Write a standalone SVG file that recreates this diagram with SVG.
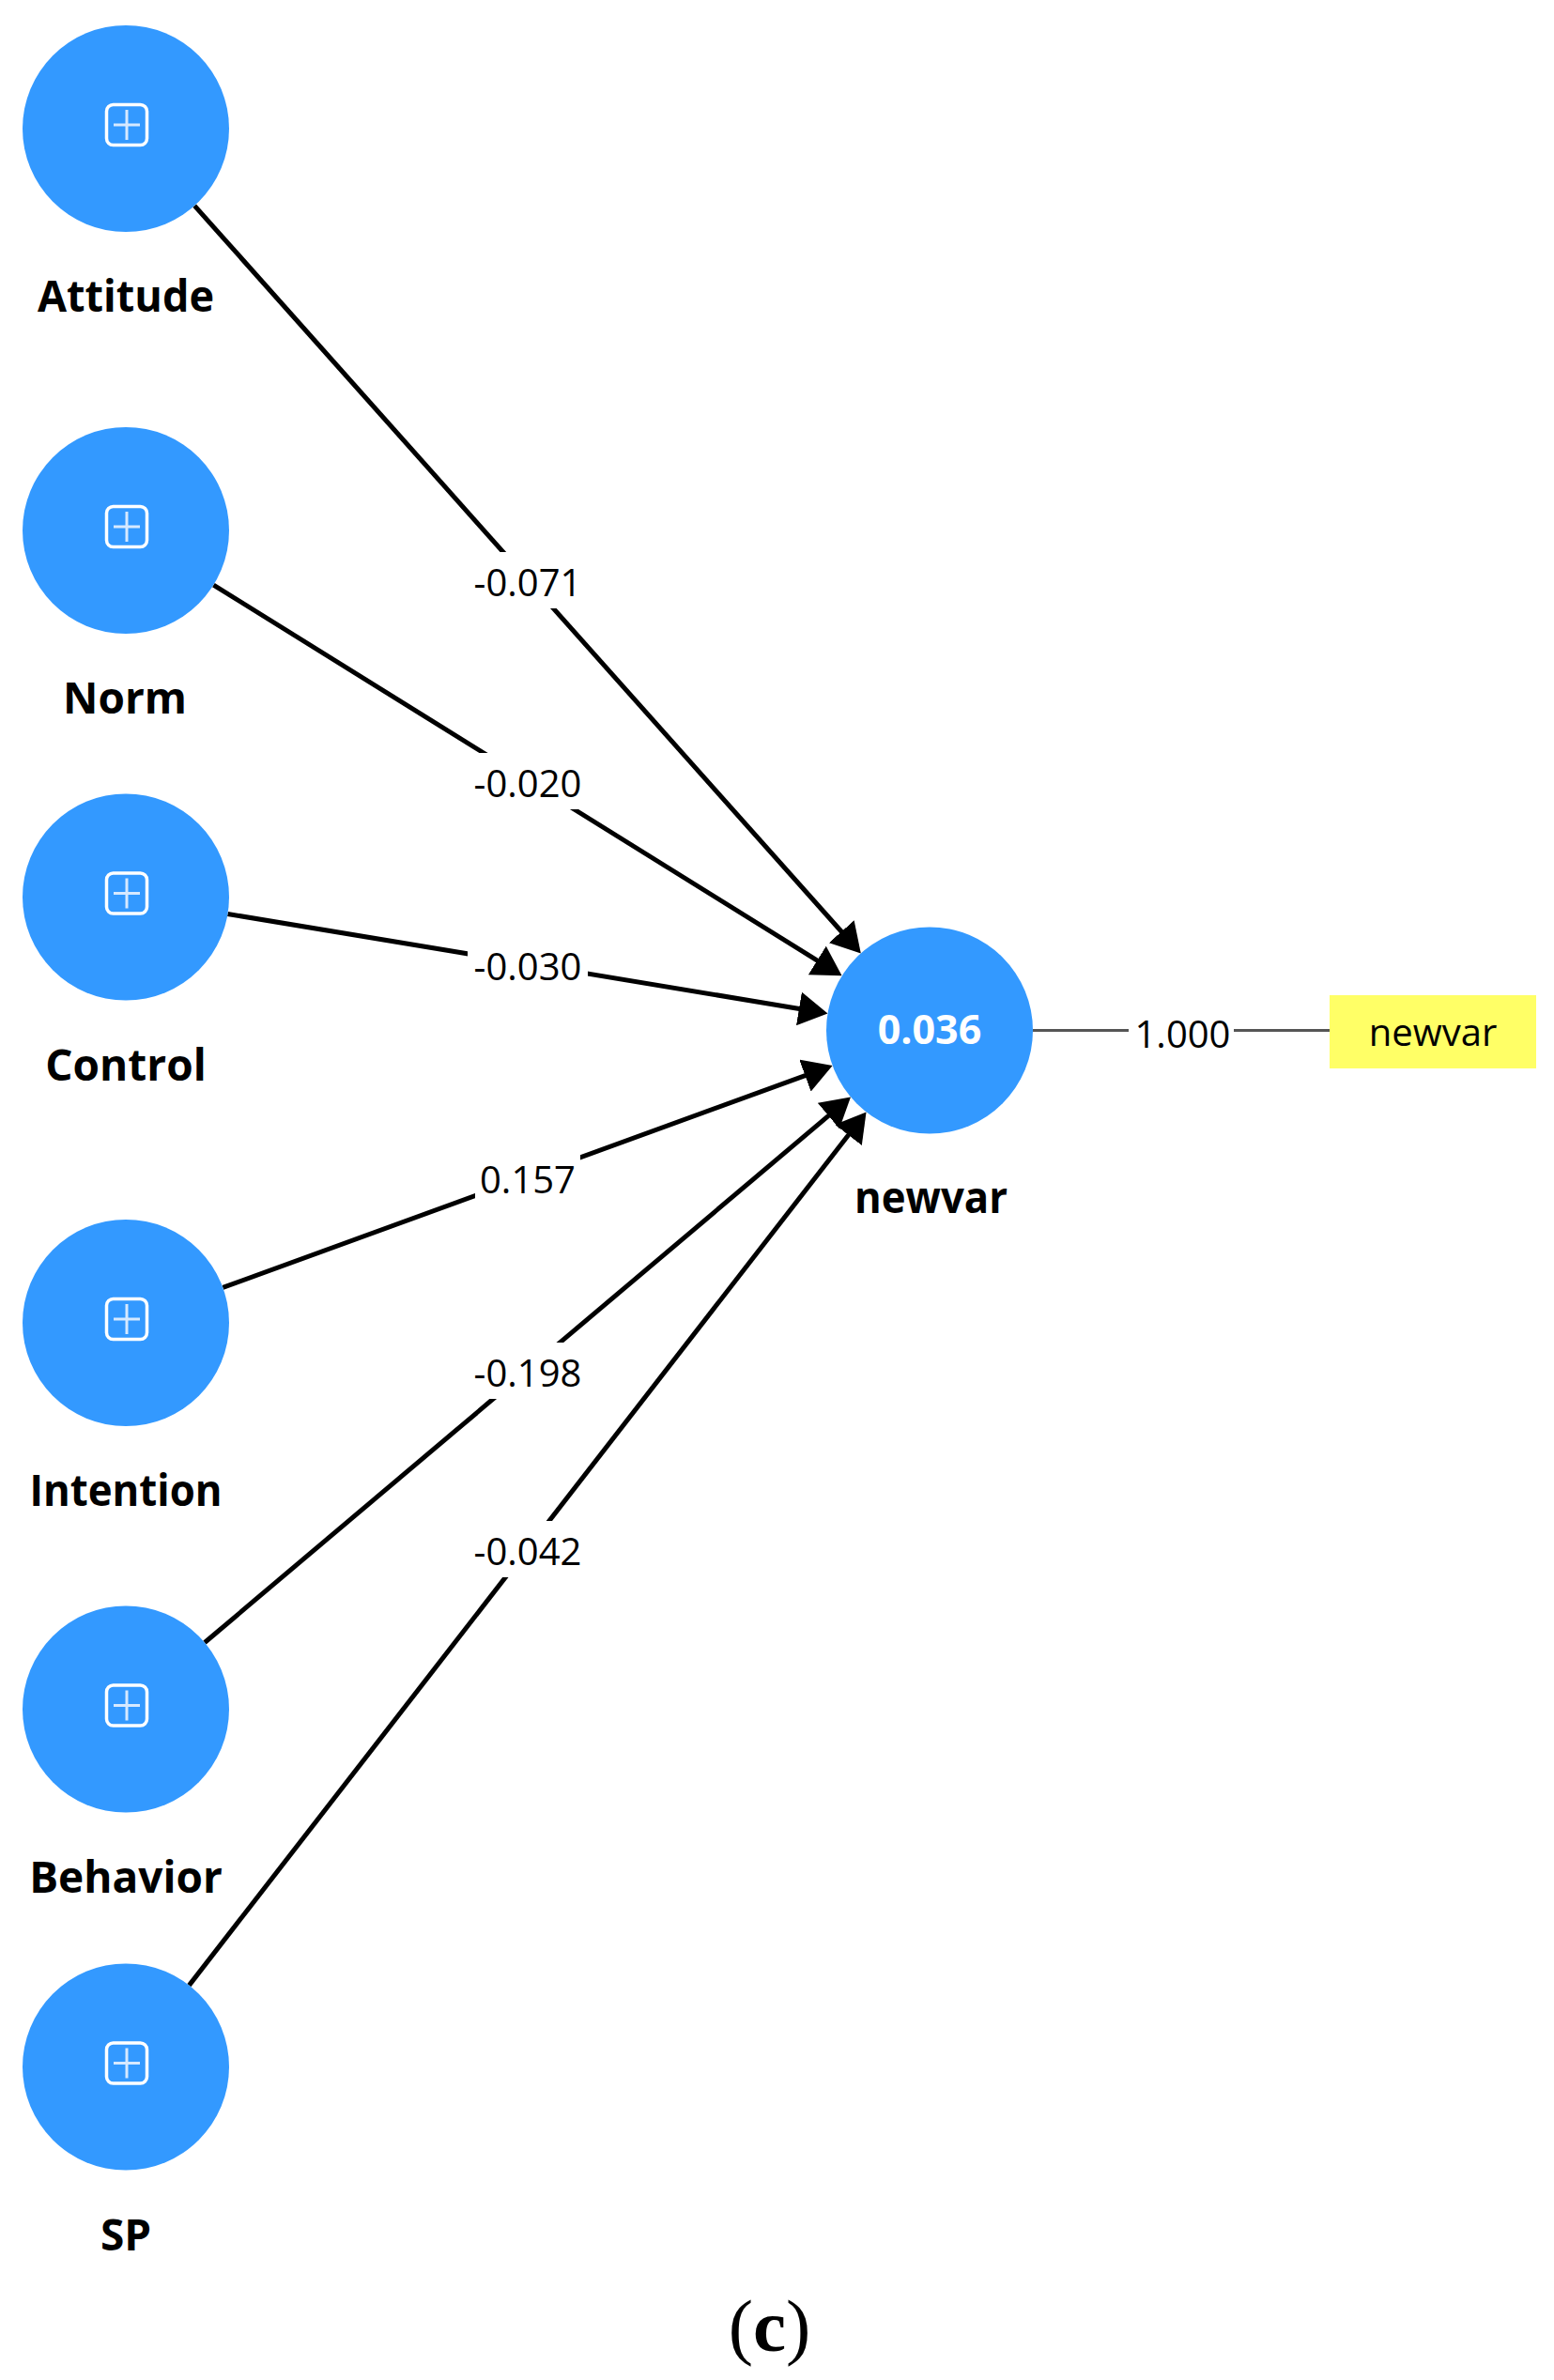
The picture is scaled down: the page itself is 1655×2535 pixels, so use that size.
<svg xmlns="http://www.w3.org/2000/svg" width="1655" height="2535" viewBox="0 0 1655 2535">
<style>
.node{fill:#3399ff}
.lbl{font-family:"Open Sans","Noto Sans",sans-serif;font-weight:bold;font-size:46px;fill:#000;text-anchor:middle}
.val{font-family:"Open Sans","Noto Sans",sans-serif;font-size:40px;fill:#000;text-anchor:middle}
.edge{stroke:#000;stroke-width:5;fill:none;marker-end:url(#arr)}
.bg{fill:#fff}
.icon{fill:none;stroke:#fff;stroke-width:3.5}
.plus{fill:none;stroke:#d6e9ff;stroke-width:3}
</style>
<defs>
<marker id="arr" markerUnits="userSpaceOnUse" markerWidth="31" markerHeight="36" viewBox="0 0 31 36" refX="11" refY="18" orient="auto">
<path d="M0,0 L31,18 L0,36 Z" fill="#000"/>
</marker>
<g id="ico">
<rect class="icon" x="-21.5" y="-21.5" width="43" height="43" rx="7"/>
<path class="plus" d="M-14,0 H14 M0,-16 V16"/>
</g>
</defs>
<rect width="1655" height="2535" fill="#fff"/>
<g id="connectors">
<line class="edge" x1="207.2" y1="219.1" x2="903.5" y2="1000.5"/>
<line class="edge" x1="227.4" y1="623.1" x2="879.6" y2="1028.8"/>
<line class="edge" x1="242.5" y1="973.5" x2="861.8" y2="1076.2"/>
<line class="edge" x1="237.4" y1="1371.4" x2="867.8" y2="1141.9"/>
<line class="edge" x1="218.0" y1="1749.5" x2="890.7" y2="1181.4"/>
<line class="edge" x1="201.4" y1="2114.6" x2="910.3" y2="1200.2"/>
<line x1="1100" y1="1097.5" x2="1416" y2="1097.5" stroke="#555" stroke-width="3"/>
<rect class="bg" x="498" y="588" width="128" height="60"/>
<text class="val" x="562" y="635">-0.071</text>
<rect class="bg" x="498" y="802" width="128" height="60"/>
<text class="val" x="562" y="849">-0.020</text>
<rect class="bg" x="498" y="997" width="128" height="60"/>
<text class="val" x="562" y="1044">-0.030</text>
<rect class="bg" x="506" y="1224" width="112" height="60"/>
<text class="val" x="562" y="1271">0.157</text>
<rect class="bg" x="498" y="1430" width="128" height="60"/>
<text class="val" x="562" y="1477">-0.198</text>
<rect class="bg" x="498" y="1620" width="128" height="60"/>
<text class="val" x="562" y="1667">-0.042</text>
<rect class="bg" x="1202" y="1072" width="112" height="56"/>
<text class="val" x="1259.5" y="1116">1.000</text>
</g>
<g id="node-attitude">
<circle class="node" cx="134" cy="137" r="110"/>
<use href="#ico" x="135" y="133"/>
<text class="lbl" x="134" y="332" textLength="188" lengthAdjust="spacingAndGlyphs">Attitude</text>
</g>
<g id="node-norm">
<circle class="node" cx="134" cy="565" r="110"/>
<use href="#ico" x="135" y="561"/>
<text class="lbl" x="133" y="760">Norm</text>
</g>
<g id="node-control">
<circle class="node" cx="134" cy="955.5" r="110"/>
<use href="#ico" x="135" y="951.5"/>
<text class="lbl" x="134" y="1150.5">Control</text>
</g>
<g id="node-intention">
<circle class="node" cx="134" cy="1409" r="110"/>
<use href="#ico" x="135" y="1405"/>
<text class="lbl" x="134" y="1604" textLength="205" lengthAdjust="spacingAndGlyphs">Intention</text>
</g>
<g id="node-behavior">
<circle class="node" cx="134" cy="1820.5" r="110"/>
<use href="#ico" x="135" y="1816.5"/>
<text class="lbl" x="134" y="2015.5">Behavior</text>
</g>
<g id="node-sp">
<circle class="node" cx="134" cy="2201.5" r="110"/>
<use href="#ico" x="135" y="2197.5"/>
<text class="lbl" x="134" y="2396.5">SP</text>
</g>
<g id="node-newvar">
<circle class="node" cx="990" cy="1097.5" r="110"/>
<text x="990" y="1112" font-family="'Open Sans','Noto Sans',sans-serif" font-weight="bold" font-size="43" fill="#fff" text-anchor="middle">0.036</text>
<text class="lbl" x="991.5" y="1292" textLength="163" lengthAdjust="spacingAndGlyphs">newvar</text>
</g>
<g id="indicator-newvar">
<rect x="1416" y="1060" width="220" height="78" fill="#ffff66"/>
<text class="val" x="1526" y="1114">newvar</text>
</g>
<text x="819.5" y="2504" font-family="'Liberation Serif','Times New Roman',serif" font-size="79" text-anchor="middle" fill="#000">(<tspan font-weight="bold">c</tspan>)</text>
</svg>
